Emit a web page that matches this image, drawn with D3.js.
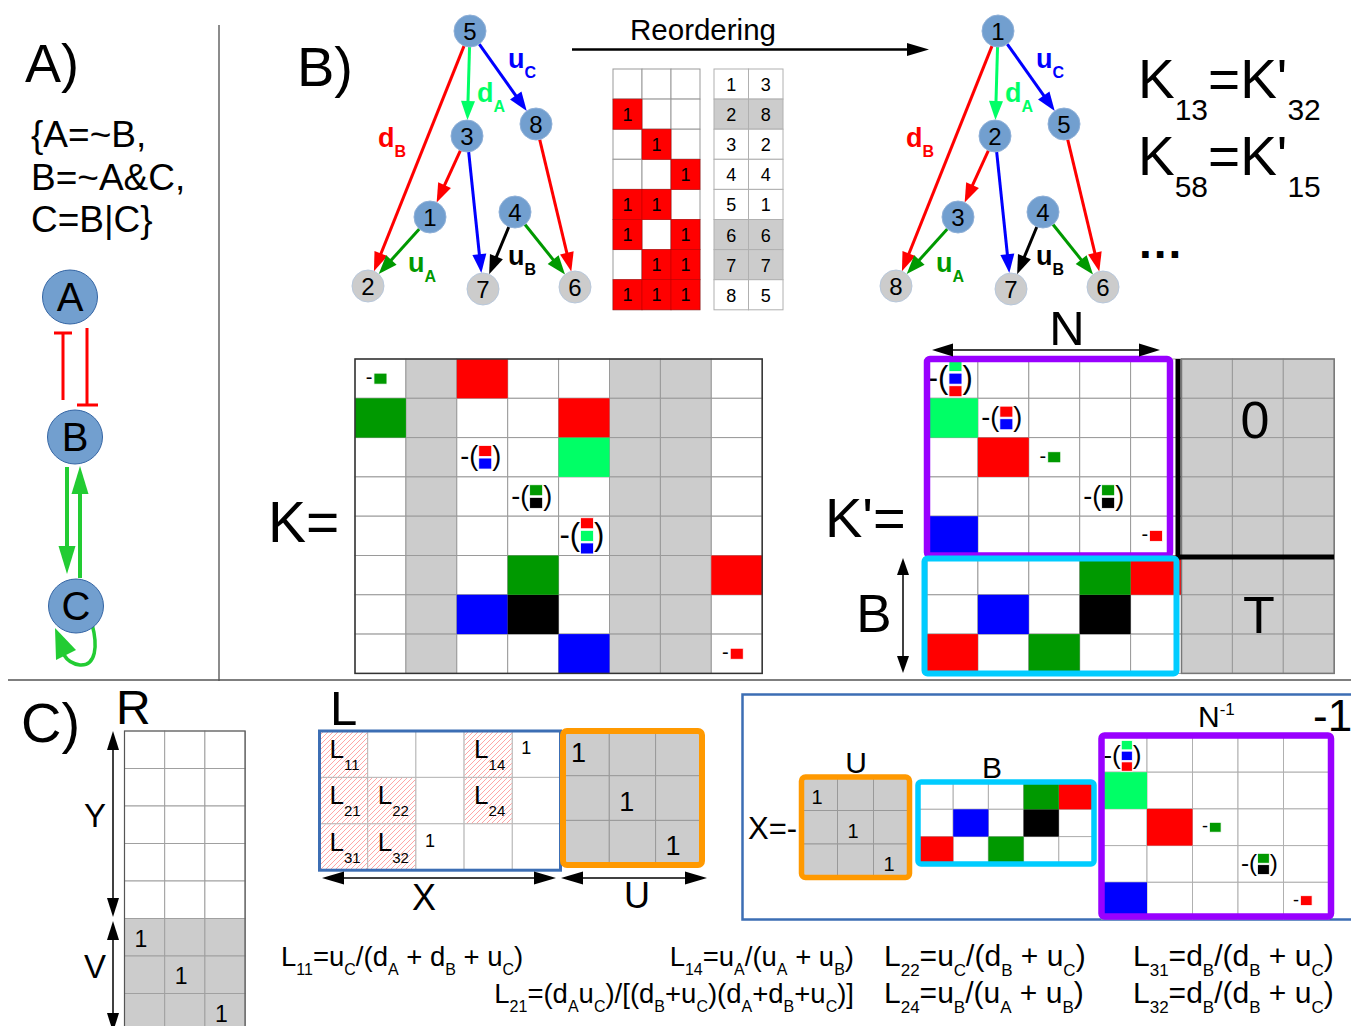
<!DOCTYPE html>
<html>
<head>
<meta charset="utf-8">
<script src="https://cdn.jsdelivr.net/npm/d3@7"></script>
<style>
  html, body { margin: 0; padding: 0; background: #fff; }
  svg { display: block; font-family: "Liberation Sans", Arial, sans-serif; }
  text { white-space: pre; }
</style>
</head>
<body>
<script>
// ---------------- data ----------------
const booleanRules = ["{A=~B,", "B=~A&C,", "C=B|C}"];
const species = ["A", "B", "C"];
const states = [1, 2, 3, 4, 5, 6, 7, 8];
// Boolean values of (A, B, C) in each state
const stateBits = [[0,0,0],[1,0,0],[0,1,0],[0,0,1],[1,1,0],[1,0,1],[0,1,1],[1,1,1]];
// label each state receives after reordering (transient first, attractors last)
const newLabel = [3, 8, 2, 4, 1, 6, 7, 5];
const absorbingStates = [2, 6, 7];
// asynchronous transitions with their rate symbol
const transitions = [
  { from: 5, to: 2, rate: "dB" },
  { from: 5, to: 3, rate: "dA" },
  { from: 5, to: 8, rate: "uC" },
  { from: 3, to: 1, rate: "dB" },
  { from: 3, to: 7, rate: "uC" },
  { from: 8, to: 6, rate: "dB" },
  { from: 1, to: 2, rate: "uA" },
  { from: 4, to: 7, rate: "uB" },
  { from: 4, to: 6, rate: "uA" }
];
const rateSymbols = { dA: "d_{A}", dB: "d_{B}", uA: "u_{A}", uB: "u_{B}", uC: "u_{C}" };
const labelledTransitions = ["5-2", "5-3", "5-8", "1-2", "4-7"];
// diagonal entries shown in the N^-1 sketch (reordered labels)
const ninvDiagonal = [1, 3, 4, 5];
// entries of L (attractor row, transient column)
const lSymbolic = [
  { r: 0, c: 0, name: "11" }, { r: 0, c: 3, name: "14" },
  { r: 1, c: 0, name: "21" }, { r: 1, c: 1, name: "22" }, { r: 1, c: 3, name: "24" },
  { r: 2, c: 0, name: "31" }, { r: 2, c: 1, name: "32" }
];
const lOnes = [{ r: 0, c: 4 }, { r: 2, c: 2 }];
const identity3 = [0, 1, 2];
const formulasLeft = [
  "L_{11}=u_{C}/(d_{A} + d_{B} + u_{C})"
];
const formulasRightAligned = [
  "L_{14}=u_{A}/(u_{A} + u_{B})",
  "L_{21}=(d_{A}u_{C})/[(d_{B}+u_{C})(d_{A}+d_{B}+u_{C})]"
];
const formulasCol2 = ["L_{22}=u_{C}/(d_{B} + u_{C})", "L_{24}=u_{B}/(u_{A} + u_{B})"];
const formulasCol3 = ["L_{31}=d_{B}/(d_{B} + u_{C})", "L_{32}=d_{B}/(d_{B} + u_{C})"];
const indexIdentities = ["K_{13}=K'_{32}", "K_{58}=K'_{15}"];

// ---------------- styles ----------------
const rateColor = { dA: "#00ff66", dB: "#ff0000", uA: "#009900", uB: "#000000", uC: "#0000ff" };
const GRAY = "#cccccc", GRID = "#a8a8a8", NODE = "#729fcf", PURPLE = "#9900ff", CYAN = "#00ccff",
      ORANGE = "#ff9900", FRAME = "#3c6eb4", RED = "#ff0000", GREEN_A = "#22cc33";

const svg = d3.select("body").append("svg").attr("width", 1351).attr("height", 1026);
const defs = svg.append("defs");
const hatch = defs.append("pattern").attr("id", "hatch").attr("patternUnits", "userSpaceOnUse")
  .attr("width", 5).attr("height", 5);
hatch.append("path").attr("d", "M-1,1 l2,-2 M0,5 l5,-5 M4,6 l2,-2")
  .attr("stroke", "#ff9c9c").attr("stroke-width", 0.9);

// ---------------- helpers ----------------
function rich(g, str, x, y, o) {
  const size = o.size, sub = o.sub || size * 0.58, dy = o.dy || size * 0.33, sup = o.sup || size * 0.35;
  const t = g.append("text").attr("x", x).attr("y", y).attr("font-size", size)
    .attr("text-anchor", o.anchor || "start").attr("fill", o.fill || "#000");
  if (o.weight) t.attr("font-weight", o.weight);
  let shift = 0, last = 0, m;
  const re = /([_^])\{([^}]*)\}/g;
  const push = (txt, s, fs) => {
    if (!txt) return;
    t.append("tspan").attr("dy", s - shift).attr("font-size", fs).text(txt);
    shift = s;
  };
  while ((m = re.exec(str))) {
    push(str.slice(last, m.index), 0, size);
    push(m[2], m[1] === "_" ? dy : -sup, sub);
    last = re.lastIndex;
  }
  push(str.slice(last), 0, size);
  if (shift !== 0) t.append("tspan").attr("dy", -shift).text("");
  return t;
}

function arrow(g, x1, y1, x2, y2, o) {
  const c = o.color || "#000", w = o.width || 3, len = o.len || 18, hw = o.hw || 7;
  const dx = x2 - x1, dy = y2 - y1, L = Math.hypot(dx, dy), ux = dx / L, uy = dy / L;
  const sx = o.start ? x1 + ux * len * 0.8 : x1, sy = o.start ? y1 + uy * len * 0.8 : y1;
  const ex = o.end !== false ? x2 - ux * len * 0.8 : x2, ey = o.end !== false ? y2 - uy * len * 0.8 : y2;
  g.append("line").attr("x1", sx).attr("y1", sy).attr("x2", ex).attr("y2", ey)
    .attr("stroke", c).attr("stroke-width", w);
  const head = (tx, ty, vx, vy) => {
    const bx = tx - vx * len, by = ty - vy * len;
    g.append("path").attr("d", `M${tx},${ty}L${bx - vy * hw},${by + vx * hw}L${bx + vy * hw},${by - vx * hw}Z`)
      .attr("fill", c);
  };
  if (o.end !== false) head(x2, y2, ux, uy);
  if (o.start) head(x1, y1, -ux, -uy);
}

// grid of cells drawn through band scales
function grid(g, o) {
  const xs = d3.scaleBand().domain(d3.range(o.nc)).range([o.x, o.x + o.nc * o.cw]);
  const ys = d3.scaleBand().domain(d3.range(o.nr)).range([o.y, o.y + o.nr * o.ch]);
  g.append("g").selectAll("rect").data(d3.cross(d3.range(o.nr), d3.range(o.nc))).join("rect")
    .attr("x", d => xs(d[1])).attr("y", d => ys(d[0]))
    .attr("width", xs.bandwidth()).attr("height", ys.bandwidth())
    .attr("fill", d => (o.bg ? o.bg(d[0], d[1]) : "#fff"))
    .attr("stroke", o.grid || GRID).attr("stroke-width", 1);
  return { xs, ys };
}

function fillCells(g, sc, cells) {
  g.append("g").selectAll("rect").data(cells).join("rect")
    .attr("x", d => sc.xs(d.c)).attr("y", d => sc.ys(d.r))
    .attr("width", sc.xs.bandwidth()).attr("height", sc.ys.bandwidth())
    .attr("fill", d => rateColor[d.rate]);
}

// minus sign followed by the stacked outgoing rates of one state
function diagGlyph(g, cx, cy, rates, k) {
  const sw = 13 * k, sh = 11 * k, gap = 1.6 * k, n = rates.length;
  const gg = g.append("g");
  if (n === 1) {
    gg.append("text").attr("x", cx - 8 * k).attr("y", cy + 5.5 * k).attr("text-anchor", "end")
      .attr("font-size", 20 * k).text("-");
    gg.append("rect").attr("x", cx - 6.5 * k).attr("y", cy - sh / 2).attr("width", sw).attr("height", sh)
      .attr("fill", rateColor[rates[0]]).attr("stroke", "#fff").attr("stroke-width", 0.8);
    return;
  }
  const H = n * sh + (n - 1) * gap, top = cy - H / 2, sx = cx - sw / 2 + 3 * k;
  rates.forEach((r, i) => {
    gg.append("rect").attr("x", sx).attr("y", top + i * (sh + gap)).attr("width", sw).attr("height", sh)
      .attr("fill", rateColor[r]).attr("stroke", "#fff").attr("stroke-width", 0.8);
  });
  const ps = (n === 2 ? 27 : 31) * k;
  gg.append("text").attr("x", sx - 0.5 * k).attr("y", cy + 0.3 * ps).attr("text-anchor", "end")
    .attr("font-size", ps).text("-(");
  gg.append("text").attr("x", sx + sw + 0.5 * k).attr("y", cy + 0.3 * ps)
    .attr("font-size", ps).text(")");
}

// transition-rate matrix entries for a given ordering of the states
function rateMatrix(pos) {
  const off = transitions.map(t => ({ r: pos(t.to), c: pos(t.from), rate: t.rate }));
  const diag = states.map(s => ({
    i: pos(s),
    state: s,
    rates: transitions.filter(t => t.from === s).sort((a, b) => pos(a.to) - pos(b.to)).map(t => t.rate)
  })).filter(d => d.rates.length);
  return { off, diag };
}
const posOld = s => s - 1;
const posNew = s => newLabel[s - 1] - 1;

// ---------------- dividers ----------------
svg.append("line").attr("x1", 219).attr("y1", 25).attr("x2", 219).attr("y2", 681)
  .attr("stroke", "#666").attr("stroke-width", 1.5);
svg.append("line").attr("x1", 8).attr("y1", 680).attr("x2", 1351).attr("y2", 680)
  .attr("stroke", "#555").attr("stroke-width", 1.5);

// ---------------- panel A ----------------
const pA = svg.append("g");
pA.append("text").attr("x", 25).attr("y", 82).attr("font-size", 54).text("A)");
pA.selectAll(".rule").data(booleanRules).join("text").attr("class", "rule")
  .attr("x", 31).attr("y", (d, i) => 147 + i * 42.5).attr("font-size", 37).text(d => d);

const speciesY = d3.scaleOrdinal().domain(species).range([297, 437, 606]);
const speciesX = d3.scaleOrdinal().domain(species).range([70, 75, 76]);
// A -| B  and  B -| A
pA.append("path").attr("d", "M63,333V400M54,333H72").attr("stroke", RED).attr("stroke-width", 3).attr("fill", "none");
pA.append("path").attr("d", "M87,328V405M77,405H98").attr("stroke", RED).attr("stroke-width", 3).attr("fill", "none");
// B -> C and C -> B
arrow(pA, 67, 467, 67, 574, { color: GREEN_A, width: 4, len: 28, hw: 8.5 });
arrow(pA, 80, 578, 80, 466, { color: GREEN_A, width: 4, len: 28, hw: 8.5 });
// C -> C
pA.append("path").attr("d", "M92,624C98,646 96,666 80,665C72,664 67,660 64,655")
  .attr("stroke", GREEN_A).attr("stroke-width", 3.5).attr("fill", "none");
pA.append("path").attr("d", "M55,628L76,650L56,660Z").attr("fill", GREEN_A);
pA.selectAll("ellipse").data(species).join("ellipse")
  .attr("cx", d => speciesX(d)).attr("cy", d => speciesY(d)).attr("rx", 27.5).attr("ry", 27)
  .attr("fill", NODE).attr("stroke", "#3465a4").attr("stroke-width", 1);
pA.selectAll(".sp").data(species).join("text").attr("class", "sp")
  .attr("x", d => speciesX(d)).attr("y", d => speciesY(d) + 14).attr("text-anchor", "middle")
  .attr("font-size", 40).text(d => d);

// ---------------- panel B: state transition graphs ----------------
const pB = svg.append("g");
pB.append("text").attr("x", 297).attr("y", 86).attr("font-size", 56).text("B)");

// node placement relative to the top state of each tree
const treeLayout = {
  5: [0, 0], 3: [-3, 105], 8: [66, 93], 1: [-40, 186], 4: [45, 181], 2: [-102, 255], 7: [13, 258], 6: [105, 256]
};
const labelLayout = {
  "5-2": [-92, 116], "5-3": [7, 71], "5-8": [38, 37], "1-2": [-62, 241], "4-7": [38, 234]
};
function stateGraph(ox, oy, labelOf) {
  const g = pB.append("g");
  const X = d3.scaleLinear().domain([0, 1]).range([ox, ox + 1]);
  const Y = d3.scaleLinear().domain([0, 1]).range([oy, oy + 1]);
  const R = 16;
  transitions.forEach(t => {
    const [ax, ay] = treeLayout[t.from], [bx, by] = treeLayout[t.to];
    const x1 = X(ax), y1 = Y(ay), x2 = X(bx), y2 = Y(by);
    const L = Math.hypot(x2 - x1, y2 - y1), ux = (x2 - x1) / L, uy = (y2 - y1) / L;
    arrow(g, x1 + ux * R, y1 + uy * R, x2 - ux * R, y2 - uy * R,
      { color: rateColor[t.rate], width: 3, len: 19, hw: 7 });
    const key = t.from + "-" + t.to;
    if (labelledTransitions.includes(key)) {
      const [lx, ly] = labelLayout[key];
      rich(g, rateSymbols[t.rate], X(lx), Y(ly), { size: 27, sub: 16, dy: 10, weight: "bold", fill: rateColor[t.rate] });
    }
  });
  const nodes = g.selectAll(".node").data(states).join("g").attr("class", "node")
    .attr("transform", s => `translate(${X(treeLayout[s][0])},${Y(treeLayout[s][1])})`);
  nodes.append("circle").attr("r", R)
    .attr("fill", s => absorbingStates.includes(s) ? GRAY : NODE)
    .attr("stroke", s => absorbingStates.includes(s) ? "#b8c8dc" : "#8fb0d8").attr("stroke-width", 1);
  nodes.append("text").attr("text-anchor", "middle").attr("y", 8.5).attr("font-size", 24)
    .text(s => labelOf(s));
}
stateGraph(470, 31, s => s);
stateGraph(998, 31, s => newLabel[s - 1]);

// reordering arrow
pB.append("text").attr("x", 703).attr("y", 40).attr("text-anchor", "middle").attr("font-size", 29.5).text("Reordering");
arrow(pB, 572, 49.5, 929, 49.5, { color: "#000", width: 2.5, len: 22, hw: 6.5 });

// state table: Boolean values
const tb = grid(pB, { x: 613, y: 69, cw: 29, ch: 30.1, nr: 8, nc: 3, grid: "#999" });
const onCells = [];
stateBits.forEach((bits, r) => bits.forEach((b, c) => { if (b) onCells.push({ r, c }); }));
pB.append("g").selectAll("rect").data(onCells).join("rect")
  .attr("x", d => tb.xs(d.c)).attr("y", d => tb.ys(d.r)).attr("width", tb.xs.bandwidth()).attr("height", tb.ys.bandwidth())
  .attr("fill", RED).attr("stroke", "#c00000").attr("stroke-width", 0.6);
pB.append("g").selectAll("text").data(onCells).join("text")
  .attr("x", d => tb.xs(d.c) + tb.xs.bandwidth() / 2).attr("y", d => tb.ys(d.r) + 21.5)
  .attr("text-anchor", "middle").attr("font-size", 18).text("1");
// old label -> new label
const t2 = grid(pB, { x: 714, y: 69, cw: 34.5, ch: 30.1, nr: 8, nc: 2, grid: "#b0b0b0",
  bg: r => absorbingStates.includes(states[r]) ? GRAY : "#fff" });
const t2cells = [];
states.forEach((s, r) => { t2cells.push({ r, c: 0, v: s }); t2cells.push({ r, c: 1, v: newLabel[r] }); });
pB.append("g").selectAll("text").data(t2cells).join("text")
  .attr("x", d => t2.xs(d.c) + t2.xs.bandwidth() / 2).attr("y", d => t2.ys(d.r) + 22)
  .attr("text-anchor", "middle").attr("font-size", 18).text(d => d.v);

indexIdentities.forEach((s, i) => rich(pB, s, 1138, 98 + i * 77, { size: 55, sub: 30, dy: 22 }));
pB.append("text").attr("x", 1139).attr("y", 258).attr("font-size", 46).attr("font-weight", "bold")
  .attr("letter-spacing", 2).text("...");

// ---------------- matrices K and K' ----------------
const CW = 50.9, CH = 39.3;
const pK = svg.append("g");
pK.append("text").attr("x", 268).attr("y", 542).attr("font-size", 57).text("K=");
const kOld = rateMatrix(posOld);
const absOld = absorbingStates.map(posOld);
const kS = grid(pK, { x: 355, y: 359, cw: CW, ch: CH, nr: 8, nc: 8, grid: "#9a9a9a",
  bg: (r, c) => absOld.includes(c) ? GRAY : "#fff" });
fillCells(pK, kS, kOld.off);
kOld.diag.forEach(d => diagGlyph(pK, kS.xs(d.i) + CW / 2, kS.ys(d.i) + CH / 2, d.rates, 1));
pK.append("rect").attr("x", 355).attr("y", 359).attr("width", 8 * CW).attr("height", 8 * CH)
  .attr("fill", "none").attr("stroke", "#333").attr("stroke-width", 1.5);

const pK2 = svg.append("g");
pK2.append("text").attr("x", 825).attr("y", 537).attr("font-size", 56).text("K'=");
const kNew = rateMatrix(posNew);
const nT = states.length - absorbingStates.length; // 5 transient states
const k2S = grid(pK2, { x: 927, y: 359, cw: CW, ch: CH, nr: 8, nc: 8, grid: "#9a9a9a",
  bg: (r, c) => c >= nT ? GRAY : "#fff" });
fillCells(pK2, k2S, kNew.off);
kNew.diag.forEach(d => diagGlyph(pK2, k2S.xs(d.i) + CW / 2, k2S.ys(d.i) + CH / 2, d.rates, 1));
pK2.append("rect").attr("x", k2S.xs(nT)).attr("y", 359).attr("width", 3 * CW).attr("height", 8 * CH)
  .attr("fill", "none").attr("stroke", "#777").attr("stroke-width", 1.5);
pK2.append("line").attr("x1", 1178).attr("y1", 359).attr("x2", 1178).attr("y2", 559.5)
  .attr("stroke", "#000").attr("stroke-width", 5);
pK2.append("line").attr("x1", 1178).attr("y1", 557).attr("x2", 1334).attr("y2", 557)
  .attr("stroke", "#000").attr("stroke-width", 5);
pK2.append("rect").attr("x", 927).attr("y", 359).attr("width", 243).attr("height", 196.5).attr("rx", 3)
  .attr("fill", "none").attr("stroke", PURPLE).attr("stroke-width", 6.5);
pK2.append("rect").attr("x", 924.5).attr("y", 558.5).attr("width", 252).attr("height", 115).attr("rx", 3)
  .attr("fill", "none").attr("stroke", CYAN).attr("stroke-width", 6);
pK2.append("text").attr("x", 1255).attr("y", 438).attr("text-anchor", "middle").attr("font-size", 52).text("0");
pK2.append("text").attr("x", 1259).attr("y", 633).attr("text-anchor", "middle").attr("font-size", 52).text("T");
pK2.append("text").attr("x", 1067).attr("y", 345).attr("text-anchor", "middle").attr("font-size", 49).text("N");
arrow(pK2, 932, 350, 1160, 350, { width: 1.5, len: 21, hw: 6.5, start: true });
pK2.append("text").attr("x", 874).attr("y", 632).attr("text-anchor", "middle").attr("font-size", 53).text("B");
arrow(pK2, 903, 558, 903, 673, { width: 1.5, len: 17, hw: 6, start: true });

// ---------------- panel C ----------------
const pC = svg.append("g");
pC.append("text").attr("x", 21).attr("y", 742).attr("font-size", 56).text("C)");
pC.append("text").attr("x", 116).attr("y", 724).attr("font-size", 48).text("R");
const rS = grid(pC, { x: 124.5, y: 731, cw: 40.2, ch: 37.5, nr: 8, nc: 3, grid: "#a0a0a0",
  bg: r => r >= nT ? GRAY : "#fff" });
pC.append("path").attr("d", `M124.5,1026V731H245.1V1026`).attr("fill", "none").attr("stroke", "#555").attr("stroke-width", 1.2);
pC.append("g").selectAll("text").data(identity3).join("text")
  .attr("x", i => rS.xs(i) + 10).attr("y", i => rS.ys(nT + i) + 28).attr("font-size", 23).text("1");
arrow(pC, 113, 731, 113, 917, { width: 1.5, len: 19, hw: 6, start: true });
arrow(pC, 113, 921, 113, 1032, { width: 1.5, len: 19, hw: 6, start: true });
pC.append("text").attr("x", 95).attr("y", 827).attr("text-anchor", "middle").attr("font-size", 33).text("Y");
pC.append("text").attr("x", 95).attr("y", 978).attr("text-anchor", "middle").attr("font-size", 33).text("V");

// L = [X | U]
pC.append("text").attr("x", 330).attr("y", 725).attr("font-size", 49).text("L");
const lS = grid(pC, { x: 319.5, y: 731, cw: 48.2, ch: 46.4, nr: 3, nc: 5, grid: "#b8b8b8" });
pC.append("g").selectAll("rect").data(lSymbolic).join("rect")
  .attr("x", d => lS.xs(d.c) + 0.5).attr("y", d => lS.ys(d.r) + 0.5)
  .attr("width", lS.xs.bandwidth() - 1).attr("height", lS.ys.bandwidth() - 1).attr("fill", "url(#hatch)");
lSymbolic.forEach(d => rich(pC, "L_{" + d.name + "}", lS.xs(d.c) + 10, lS.ys(d.r) + 27, { size: 26, sub: 15, dy: 12 }));
pC.append("g").selectAll("text").data(lOnes).join("text")
  .attr("x", d => lS.xs(d.c) + 9).attr("y", d => lS.ys(d.r) + 23).attr("font-size", 18).text("1");
pC.append("rect").attr("x", 319.5).attr("y", 731).attr("width", 5 * 48.2).attr("height", 3 * 46.4)
  .attr("fill", "none").attr("stroke", FRAME).attr("stroke-width", 3);
const uS = grid(pC, { x: 563, y: 731, cw: 46.3, ch: 44.7, nr: 3, nc: 3, grid: "#999", bg: () => GRAY });
pC.append("g").selectAll("text").data(identity3).join("text")
  .attr("x", i => uS.xs(i) + (i === 0 ? 8 : 10)).attr("y", i => uS.ys(i) + (i === 0 ? 31 : 35)).attr("font-size", 27).text("1");
pC.append("rect").attr("x", 563).attr("y", 731).attr("width", 139).attr("height", 134).attr("rx", 4)
  .attr("fill", "none").attr("stroke", ORANGE).attr("stroke-width", 6);
arrow(pC, 322, 878, 556, 878, { width: 1.5, len: 22, hw: 6.5, start: true });
arrow(pC, 561, 878, 707, 878, { width: 1.5, len: 22, hw: 6.5, start: true });
pC.append("text").attr("x", 424).attr("y", 910).attr("text-anchor", "middle").attr("font-size", 36).text("X");
pC.append("text").attr("x", 637).attr("y", 908).attr("text-anchor", "middle").attr("font-size", 36).text("U");

// X = -U B N^-1
const pX = svg.append("g");
pX.append("rect").attr("x", 742.5).attr("y", 694.5).attr("width", 700).attr("height", 225)
  .attr("fill", "none").attr("stroke", FRAME).attr("stroke-width", 2.5);
pX.append("text").attr("x", 748).attr("y", 839).attr("font-size", 31).text("X=-");
const xuS = grid(pX, { x: 801.5, y: 777, cw: 36, ch: 33.5, nr: 3, nc: 3, grid: "#999", bg: () => GRAY });
pX.append("g").selectAll("text").data(identity3).join("text")
  .attr("x", i => xuS.xs(i) + 10).attr("y", i => xuS.ys(i) + 27).attr("font-size", 20).text("1");
pX.append("rect").attr("x", 801.5).attr("y", 777).attr("width", 108).attr("height", 100.5).attr("rx", 4)
  .attr("fill", "none").attr("stroke", ORANGE).attr("stroke-width", 5.5);
pX.append("text").attr("x", 856).attr("y", 773).attr("text-anchor", "middle").attr("font-size", 30).text("U");

const bS = grid(pX, { x: 918, y: 782, cw: 35.2, ch: 27.3, nr: 3, nc: 5, grid: "#b0b0b0" });
fillCells(pX, bS, kNew.off.filter(d => d.r >= nT && d.c < nT).map(d => ({ r: d.r - nT, c: d.c, rate: d.rate })));
pX.append("rect").attr("x", 918).attr("y", 782).attr("width", 176).attr("height", 82).attr("rx", 3)
  .attr("fill", "none").attr("stroke", CYAN).attr("stroke-width", 5.5);
pX.append("text").attr("x", 992).attr("y", 778).attr("text-anchor", "middle").attr("font-size", 30).text("B");

const nS = grid(pX, { x: 1101.5, y: 735.5, cw: 45.5, ch: 36.7, nr: 5, nc: 5, grid: "#b0b0b0" });
fillCells(pX, nS, kNew.off.filter(d => d.r < nT && d.c < nT));
kNew.diag.filter(d => ninvDiagonal.includes(d.i + 1))
  .forEach(d => diagGlyph(pX, nS.xs(d.i) + 45.5 / 2, nS.ys(d.i) + 36.7 / 2 + (d.i === 0 ? 2 : 0), d.rates, d.rates.length === 3 ? 0.85 : 0.9));
pX.append("rect").attr("x", 1101.5).attr("y", 735.5).attr("width", 229.5).attr("height", 181).attr("rx", 3)
  .attr("fill", "none").attr("stroke", PURPLE).attr("stroke-width", 6.5);
rich(pX, "N^{-1}", 1198, 727, { size: 30, sub: 17, sup: 12 });
pX.append("text").attr("x", 1313).attr("y", 731).attr("font-size", 44).text("-1");

// ---------------- closed-form entries of L ----------------
const pF = svg.append("g");
const FS = { size: 27.5, sub: 16, dy: 9 };
const FS2 = { size: 30, sub: 17, dy: 10 };
formulasLeft.forEach((f, i) => rich(pF, f, 281, 966 + i * 37, FS));
formulasRightAligned.forEach((f, i) => rich(pF, f, 854, 966 + i * 37, Object.assign({ anchor: "end" }, FS)));
formulasCol2.forEach((f, i) => rich(pF, f, 884, 966 + i * 37, FS2));
formulasCol3.forEach((f, i) => rich(pF, f, 1133, 966 + i * 37, FS2));
</script>
</body>
</html>
